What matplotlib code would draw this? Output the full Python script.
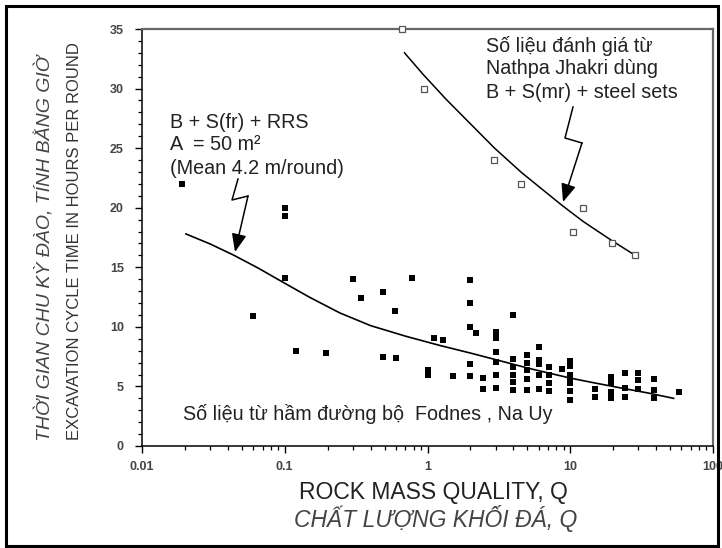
import numpy as np
import matplotlib
matplotlib.use('Agg')
import matplotlib.pyplot as plt
from matplotlib.patches import Rectangle, FancyArrowPatch
from matplotlib.ticker import LogLocator, MultipleLocator, NullFormatter, FixedLocator, FixedFormatter

plt.rcParams['font.family'] = ['Liberation Sans', 'DejaVu Sans']

# Fodnes road tunnel, Norway (filled squares)
fodnes_q = [0.019, 0.06, 0.1, 0.1, 0.1, 0.12, 0.196, 0.30, 0.34, 0.49, 0.59, 0.78,
            0.49, 0.60, 1.0, 1.0, 1.11, 1.29, 1.5,
            2.0, 2.0, 2.0, 2.19, 2.0, 2.0, 2.45, 2.45,
            3.0, 3.0, 3.0, 3.0, 3.0, 3.0,
            4.0, 4.0, 4.0, 4.0, 4.0, 4.0,
            5.0, 5.0, 5.0, 5.0, 5.0,
            6.0, 6.0, 6.0, 6.0, 6.0,
            7.05, 7.05, 7.05, 7.05, 8.8,
            10, 10, 10, 10, 10, 10, 10,
            15, 15, 19.2, 19.2, 19.2, 19.2,
            24.2, 24.2, 24.2, 30, 30, 30, 38.6, 38.6, 38.6, 58]
fodnes_t = [22.0, 10.9, 20.0, 19.3, 14.1, 8.0, 7.8, 14.0, 12.4, 12.95, 11.3, 14.1,
            7.5, 7.4, 6.4, 6.0, 9.1, 8.9, 5.9,
            13.9, 12.0, 10.0, 9.5, 6.9, 5.9, 5.7, 4.8,
            9.6, 9.1, 7.85, 7.05, 5.95, 4.85,
            11.0, 7.3, 6.65, 6.0, 5.35, 4.7,
            7.65, 6.95, 6.4, 5.6, 4.7,
            8.35, 7.25, 6.9, 5.95, 4.75,
            6.65, 5.95, 5.25, 4.6, 6.5,
            7.1, 6.7, 5.95, 5.55, 5.25, 4.65, 3.9,
            4.75, 4.15, 5.8, 5.25, 4.55, 4.0,
            6.1, 4.85, 4.15, 6.1, 5.55, 4.75, 5.6, 4.7, 4.0, 4.5]

# Nathpa Jhakri (open squares)
nathpa_q = [0.66, 0.95, 2.9, 4.5, 12.3, 10.5, 19.5, 28.5]
nathpa_t = [35.0, 30.0, 24.0, 22.0, 20.0, 18.0, 17.0, 16.0]

# trend curves
fod_curve_q = [0.0203, 0.03, 0.0435, 0.065, 0.1, 0.15, 0.243, 0.4, 0.71, 1.21, 2.0,
               3.0, 5.2, 10, 15, 22, 35, 53]
fod_curve_t = [17.8, 16.96, 16.04, 14.94, 13.66, 12.47, 11.17, 10.1, 9.2, 8.45, 7.8,
               7.25, 6.5, 5.7, 5.28, 4.9, 4.45, 4.0]
nat_curve_q = [0.69, 0.93, 1.35, 2.95, 4.56, 8.75, 12.3, 19.5, 29.4]
nat_curve_t = [33.0, 31.2, 29.1, 25.0, 22.95, 20.2, 18.85, 17.25, 15.9]

W, H = 722, 548
fig = plt.figure(figsize=(W / 100, H / 100), dpi=100)
ax = fig.add_axes([142 / W, (H - 446) / H, 571 / W, 417 / H])

ax.plot(fod_curve_q, fod_curve_t, color='black', lw=1.2, solid_joinstyle='round')
ax.plot(nat_curve_q, nat_curve_t, color='black', lw=1.1, solid_joinstyle='round')
ax.plot(fodnes_q, fodnes_t, 's', color='black', ms=3.9, mew=0)
ax.plot(nathpa_q, nathpa_t, 's', mfc='white', mec='#555555', ms=3.8, mew=0.9,
        clip_on=False, zorder=5)

ax.set_xscale('log')
ax.set_xlim(0.01, 100)
ax.set_ylim(0, 35)
ax.xaxis.set_major_locator(FixedLocator([0.01, 0.1, 1, 10, 100]))
ax.xaxis.set_major_formatter(FixedFormatter(['0.01', '0.1', '1', '10', '100']))
ax.xaxis.set_minor_locator(LogLocator(base=10, subs=np.arange(2, 10)))
ax.xaxis.set_minor_formatter(NullFormatter())
ax.yaxis.set_major_locator(MultipleLocator(5))
ax.yaxis.set_minor_locator(MultipleLocator(1))

ax.tick_params(which='major', direction='out', length=5, width=1.0, color='black')
ax.tick_params(which='minor', direction='out', length=3, width=0.9, color='black')
ax.tick_params(axis='y', pad=8)
ax.tick_params(axis='x', pad=6)
for lab in ax.get_xticklabels() + ax.get_yticklabels():
    lab.set_fontsize(9)
    lab.set_fontweight('bold')
    lab.set_color('#444444')

for s in ['left', 'bottom']:
    ax.spines[s].set_color('black')
    ax.spines[s].set_linewidth(1.1)
for s in ['top', 'right']:
    ax.spines[s].set_color('#666666')
    ax.spines[s].set_linewidth(1.6)

# axis titles
fig.text(45 / W, 1 - 248 / H, 'THỜI GIAN CHU KỲ ĐÀO, TÍNH BẰNG GIỜ', rotation=90,
         ha='center', va='center', fontsize=14, style='italic', color='#444444')
fig.text(75 / W, 1 - 241 / H, 'EXCAVATION CYCLE TIME IN HOURS PER ROUND', rotation=90,
         ha='center', va='center', fontsize=12, color='#333333')
fig.text(433 / W, 1 - 493 / H, 'ROCK MASS QUALITY, Q', ha='center', va='center',
         fontsize=16.5, color='#222222')
fig.text(436 / W, 1 - 518 / H, 'CHẤT LƯỢNG KHỐI ĐÁ, Q', ha='center', va='center',
         fontsize=16.5, style='italic', color='#444444')

# annotations
ann = dict(ha='left', va='center', fontsize=14.2, color='#222222')
fig.text(170 / W, 1 - 122 / H, 'B + S(fr) + RRS', **ann)
fig.text(170 / W, 1 - 145 / H, 'A  = 50 m²', **ann)
fig.text(170 / W, 1 - 168 / H, '(Mean 4.2 m/round)', **ann)
fig.text(486 / W, 1 - 46 / H, 'Số liệu đánh giá từ', **ann)
fig.text(486 / W, 1 - 69 / H, 'Nathpa Jhakri dùng', **ann)
fig.text(486 / W, 1 - 92 / H, 'B + S(mr) + steel sets', **ann)
fig.text(183 / W, 1 - 414 / H, 'Số liệu từ hầm đường bộ  Fodnes , Na Uy', **ann)


def zigzag(pts, tip):
    xs = [p[0] / W for p in pts]
    ys = [1 - p[1] / H for p in pts]
    fig.add_artist(plt.Line2D(xs, ys, color='black', lw=1.1, transform=fig.transFigure))
    last = pts[-1]
    fig.add_artist(FancyArrowPatch(
        (last[0] / W, 1 - last[1] / H), (tip[0] / W, 1 - tip[1] / H),
        transform=fig.transFigure, arrowstyle='-|>,head_length=11,head_width=4.5',
        mutation_scale=1, lw=1.1, color='black', shrinkA=0, shrinkB=0))


zigzag([(238, 179), (232, 200), (248, 196)], (235, 252))
zigzag([(573, 107), (565, 138), (582, 143)], (563, 202))

# outer frame
fig.add_artist(Rectangle((6 / W, 1 - 546 / H), 712 / W, 540 / H, transform=fig.transFigure,
                         fill=False, lw=2.2, edgecolor='black'))

fig.savefig('out.png', dpi=100)
